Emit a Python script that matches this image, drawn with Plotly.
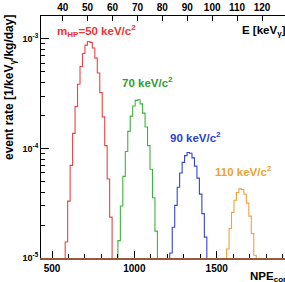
import plotly.graph_objects as go

# ---- data ----
bin_width = 15  # NPE per bin

red_start = 580
red_vals = [1.4e-5, 3.3e-5, 7.0e-5, 1.37e-4, 2.41e-4, 3.85e-4, 5.58e-4, 7.34e-4, 8.75e-4, 9.46e-4,
            9.28e-4, 8.25e-4, 6.66e-4, 4.87e-4, 3.23e-4, 1.94e-4, 1.06e-4, 5.25e-5, 2.36e-5]

green_start = 900
green_vals = [1.44e-5, 2.98e-5, 5.56e-5, 9.38e-5, 1.43e-4, 1.97e-4, 2.44e-4, 2.74e-4, 2.78e-4,
              2.55e-4, 2.10e-4, 1.57e-4, 1.06e-4, 6.46e-5, 3.55e-5, 1.76e-5]

blue_start = 1215
blue_vals = [1.11e-5, 1.91e-5, 3.02e-5, 4.42e-5, 5.97e-5, 7.46e-5, 8.60e-5, 9.17e-5, 9.02e-5,
             8.20e-5, 6.89e-5, 5.35e-5, 3.83e-5, 2.54e-5, 1.55e-5]

orange_start = 1560
orange_vals = [1.21e-5, 1.86e-5, 2.61e-5, 3.36e-5, 3.96e-5, 4.27e-5, 4.22e-5, 3.82e-5, 3.17e-5,
               2.41e-5, 1.67e-5, 1.06e-5]

npe_ticks = [500, 1000, 1500]
npe_minor = [600, 700, 800, 900, 1100, 1200, 1300, 1400, 1600, 1700, 1800, 1900]
e_ticks = [40, 50, 60, 70, 80, 90, 100, 110, 120]
y_ticks = [1e-5, 1e-4, 1e-3]
y_ticktext = ["10<sup>-5</sup>", "10<sup>-4</sup>", "10<sup>-3</sup>"]

series = [
    ("red", red_start, red_vals, "#ee4444"),
    ("green", green_start, green_vals, "#3cb43c"),
    ("blue", blue_start, blue_vals, "#3344dd"),
    ("orange", orange_start, orange_vals, "#f5a040"),
]

# ---- figure ----
W, H = 285, 282
ML, MR, MT, MB = 41, 0, 16, 24
PW, PH = W - ML - MR, H - MT - MB


def px(x):
    return (x - ML) / PW


def py(y):
    return (H - MB - y) / PH


fig = go.Figure()
FLOOR = 1e-7
for name, start, vals, col in series:
    centers = [start + bin_width * (i + 0.5) for i in range(len(vals))]
    xs = [centers[0] - bin_width] + centers + [centers[-1] + bin_width]
    ys = [FLOOR] + vals + [FLOOR]
    fig.add_trace(go.Scatter(x=xs, y=ys, mode="lines", line=dict(color=col, width=1.1, shape="hvh"),
                             name=name, hoverinfo="skip"))

fig.add_trace(go.Scatter(x=[50], y=[1e-6], xaxis="x2", mode="markers", marker=dict(opacity=0),
                         showlegend=False, hoverinfo="skip"))

bold = dict(family="Liberation Sans, Arial, sans-serif", color="black", size=10, weight="bold")

fig.update_layout(
    width=W, height=H,
    margin=dict(l=ML, r=MR, t=MT, b=MB, pad=0),
    paper_bgcolor="white", plot_bgcolor="white",
    showlegend=False,
    xaxis=dict(range=[433.2, 1914.7], showgrid=False, zeroline=False, showline=True,
               linecolor="#9a5a3a", linewidth=1.5, ticks="inside", ticklen=7, tickcolor="black",
               tickvals=npe_ticks, ticktext=[str(v) for v in npe_ticks], tickfont=bold,
               minor=dict(tickvals=npe_minor, ticks="inside", ticklen=4, tickcolor="black")),
    xaxis2=dict(range=[31.29, 129.23], overlaying="x", side="top", anchor="y", showgrid=False,
                zeroline=False, showline=True, linecolor="black", linewidth=1, ticks="inside",
                ticklen=5, tickcolor="black", tickvals=e_ticks, ticktext=[str(v) for v in e_ticks],
                tickfont=bold),
    yaxis=dict(type="log", range=[-5, -5 + PH / 109.6], showgrid=False, zeroline=False,
               showline=True, linecolor="black", linewidth=1, ticks="inside", ticklen=8,
               tickcolor="black", tickvals=y_ticks, ticktext=y_ticktext, tickfont=dict(bold, size=9),
               minor=dict(tickvals=[m * d for d in (1e-5, 1e-4, 1e-3) for m in range(2, 10)],
                          ticks="inside", ticklen=4, tickcolor="black")),
)

lab = dict(family="Liberation Sans, Arial, sans-serif", size=11.5, weight="bold")
annots = [
    ("m<sub>HP</sub>=50 keV/c<sup>2</sup>", 55, 31, "#ee3333"),
    ("70 keV/c<sup>2</sup>", 120, 82, "#2e9e2e"),
    ("90 keV/c<sup>2</sup>", 168, 137, "#2b3fd6"),
    ("110 keV/c<sup>2</sup>", 213, 171, "#f0a030"),
    ("E [keV<sub>γ</sub>]", 240, 31, "black"),
    ("NPE<sub>cor</sub>", 248, 277, "black"),
]
for txt, x, y, col in annots:
    fig.add_annotation(text=txt, xref="paper", yref="paper", x=px(x), y=py(y), xanchor="left",
                       yanchor="middle", showarrow=False, font=dict(lab, color=col))

fig.add_annotation(text="event rate [1/keV<sub>γ</sub>/kg/day]", xref="paper", yref="paper",
                   x=px(10), y=py(88), xanchor="center", yanchor="middle", textangle=-90,
                   showarrow=False, font=dict(lab, size=12, color="black"))

fig.write_html("out.html")
